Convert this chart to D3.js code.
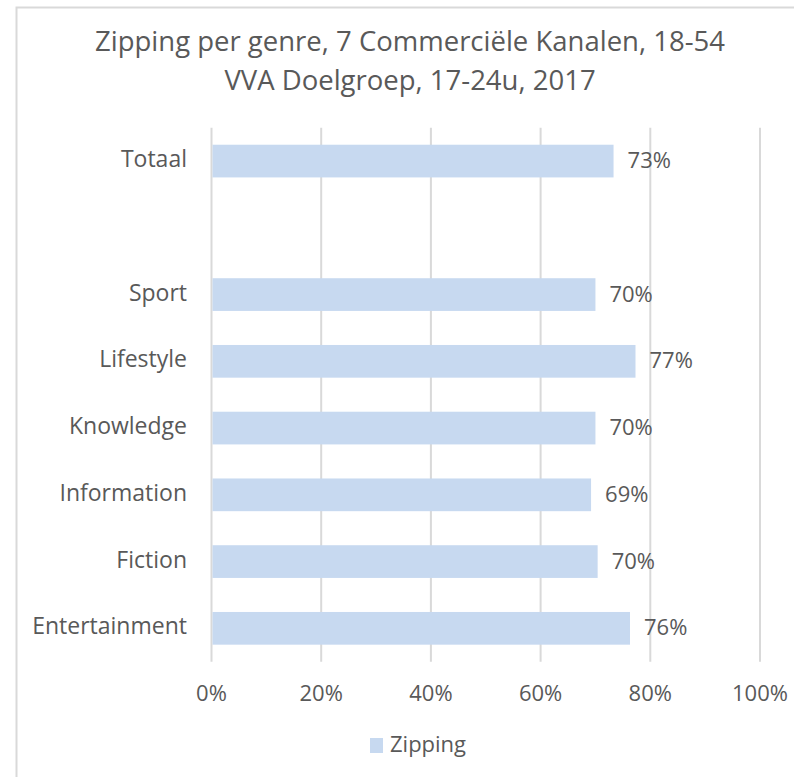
<!DOCTYPE html>
<html>
<head>
<meta charset="utf-8">
<style>
body { margin: 0; background: #fff; }
text { font-family: "Open Sans", sans-serif; fill: #595959; }
.grid line { stroke: #d9d9d9; stroke-width: 2; }
</style>
</head>
<body>
<svg width="794" height="777"></svg>
<script src="https://cdn.jsdelivr.net/npm/d3@7/dist/d3.min.js"></script>
<script>
var titleLines = ["Zipping per genre, 7 Commerciële Kanalen, 18-54", "VVA Doelgroep, 17-24u, 2017"];
var categories = ["Totaal", "", "Sport", "Lifestyle", "Knowledge", "Information", "Fiction", "Entertainment"];
var zipping = [0.733, null, 0.70, 0.773, 0.70, 0.692, 0.704, 0.763];
var ticks = [0, 0.2, 0.4, 0.6, 0.8, 1.0];
var seriesName = "Zipping";

var svg = d3.select("svg");
var data = categories.map(function(c, i) { return {cat: c, value: zipping[i]}; });

// chart border
svg.append("rect")
    .attr("x", 16.5).attr("y", 7.5)
    .attr("width", 800).attr("height", 800)
    .attr("fill", "none").attr("stroke", "#d9d9d9").attr("stroke-width", 2);

var x = d3.scaleLinear().domain([0, 1]).range([211.5, 760]);
var y = d3.scaleBand().domain(d3.range(categories.length))
    .range([127.7, 661.7]).paddingInner(0.51).paddingOuter(0.255);

svg.selectAll(".title")
  .data(titleLines)
  .enter().append("text")
    .attr("class", "title")
    .attr("x", 410)
    .attr("y", function(d, i) { return 51 + i * 39; })
    .attr("text-anchor", "middle")
    .style("font-size", "27.5px")
    .text(function(d) { return d; });

var grid = svg.append("g").attr("class", "grid");
grid.selectAll("line")
  .data(ticks)
  .enter().append("line")
    .attr("x1", function(d) { return x(d); })
    .attr("x2", function(d) { return x(d); })
    .attr("y1", 127.7)
    .attr("y2", 661.7);

svg.selectAll(".bar")
  .data(data.filter(function(d) { return d.value != null; }))
  .enter().append("rect")
    .attr("class", "bar")
    .attr("x", x(0) + 1)
    .attr("y", function(d) { return y(categories.indexOf(d.cat)); })
    .attr("width", function(d) { return x(d.value) - x(0) - 1; })
    .attr("height", y.bandwidth())
    .attr("fill", "#c7d9f0");

svg.selectAll(".val")
  .data(data.filter(function(d) { return d.value != null; }))
  .enter().append("text")
    .attr("class", "val")
    .attr("x", function(d) { return x(d.value) + 14; })
    .attr("y", function(d) { return y(categories.indexOf(d.cat)) + y.bandwidth() / 2 + 7; })
    .style("font-size", "22px")
    .text(function(d) { return d3.format(".0%")(d.value); });

svg.selectAll(".cat")
  .data(data)
  .enter().append("text")
    .attr("class", "cat")
    .attr("x", 187)
    .attr("y", function(d, i) { return y(i) + y.bandwidth() / 2 + 6; })
    .attr("text-anchor", "end")
    .style("font-size", "23px")
    .text(function(d) { return d.cat; });

svg.selectAll(".tick-label")
  .data(ticks)
  .enter().append("text")
    .attr("class", "tick-label")
    .attr("x", function(d) { return x(d); })
    .attr("y", 701)
    .attr("text-anchor", "middle")
    .style("font-size", "22px")
    .text(function(d) { return d3.format(".0%")(d); });

var legend = svg.append("g").attr("transform", "translate(370,738)");
legend.append("rect").attr("width", 13).attr("height", 15).attr("fill", "#c7d9f0");
legend.append("text").attr("x", 20).attr("y", 14)
    .style("font-size", "22px").text(seriesName);
</script>
</body>
</html>
